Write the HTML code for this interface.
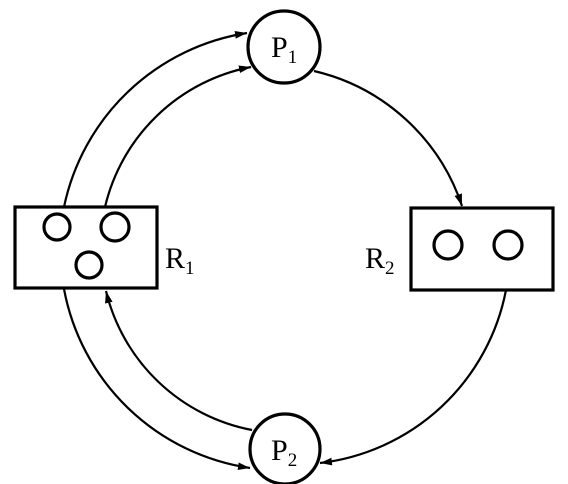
<!DOCTYPE html>
<html><head><meta charset="utf-8"><style>
body{margin:0;background:#fff;width:568px;height:484px;overflow:hidden}
svg{display:block}
text{font-family:"Liberation Serif",serif;fill:#000}
</style></head><body>
<svg width="568" height="484" viewBox="0 0 568 484">
<defs>
<marker id="ah" viewBox="0 0 10 10" refX="10" refY="5" markerWidth="12" markerHeight="12" orient="auto" markerUnits="userSpaceOnUse">
<path d="M0,1.8 L10,5 L0,8.2 z" fill="#000"/>
</marker>
</defs>
<g fill="none" stroke="#000" stroke-width="2.2">
<path d="M64,207 A222,222 0 0 1 247,33" marker-end="url(#ah)"/>
<path d="M105,207 A186,186 0 0 1 251,67" marker-end="url(#ah)"/>
<path d="M314,71 A205,205 0 0 1 462,206" marker-end="url(#ah)"/>
<path d="M506,290 A215,215 0 0 1 320,463" marker-end="url(#ah)"/>
<path d="M64,289 A222,222 0 0 0 250,468" marker-end="url(#ah)"/>
<path d="M252,430 A186,186 0 0 1 106,291" marker-end="url(#ah)"/>
</g>
<g stroke="#000" stroke-width="3.2" fill="#fff">
<circle cx="284" cy="47" r="36"/>
<circle cx="285" cy="449" r="35"/>
<rect x="15" y="207" width="142" height="81"/>
<rect x="411" y="208" width="142" height="82"/>
</g>
<g stroke="#000" stroke-width="3.2" fill="none">
<circle cx="57" cy="227" r="13"/>
<circle cx="115" cy="227" r="14"/>
<circle cx="89" cy="265" r="13"/>
<circle cx="448" cy="245" r="14"/>
<circle cx="508" cy="245" r="14"/>
</g>
<text x="271" y="57" font-size="30">P<tspan font-size="19" dy="6">1</tspan></text>
<text x="271" y="460" font-size="30">P<tspan font-size="19" dy="6">2</tspan></text>
<text x="165" y="268" font-size="30">R<tspan font-size="19" dy="6">1</tspan></text>
<text x="365" y="268" font-size="30">R<tspan font-size="19" dy="6">2</tspan></text>
</svg>
</body></html>
